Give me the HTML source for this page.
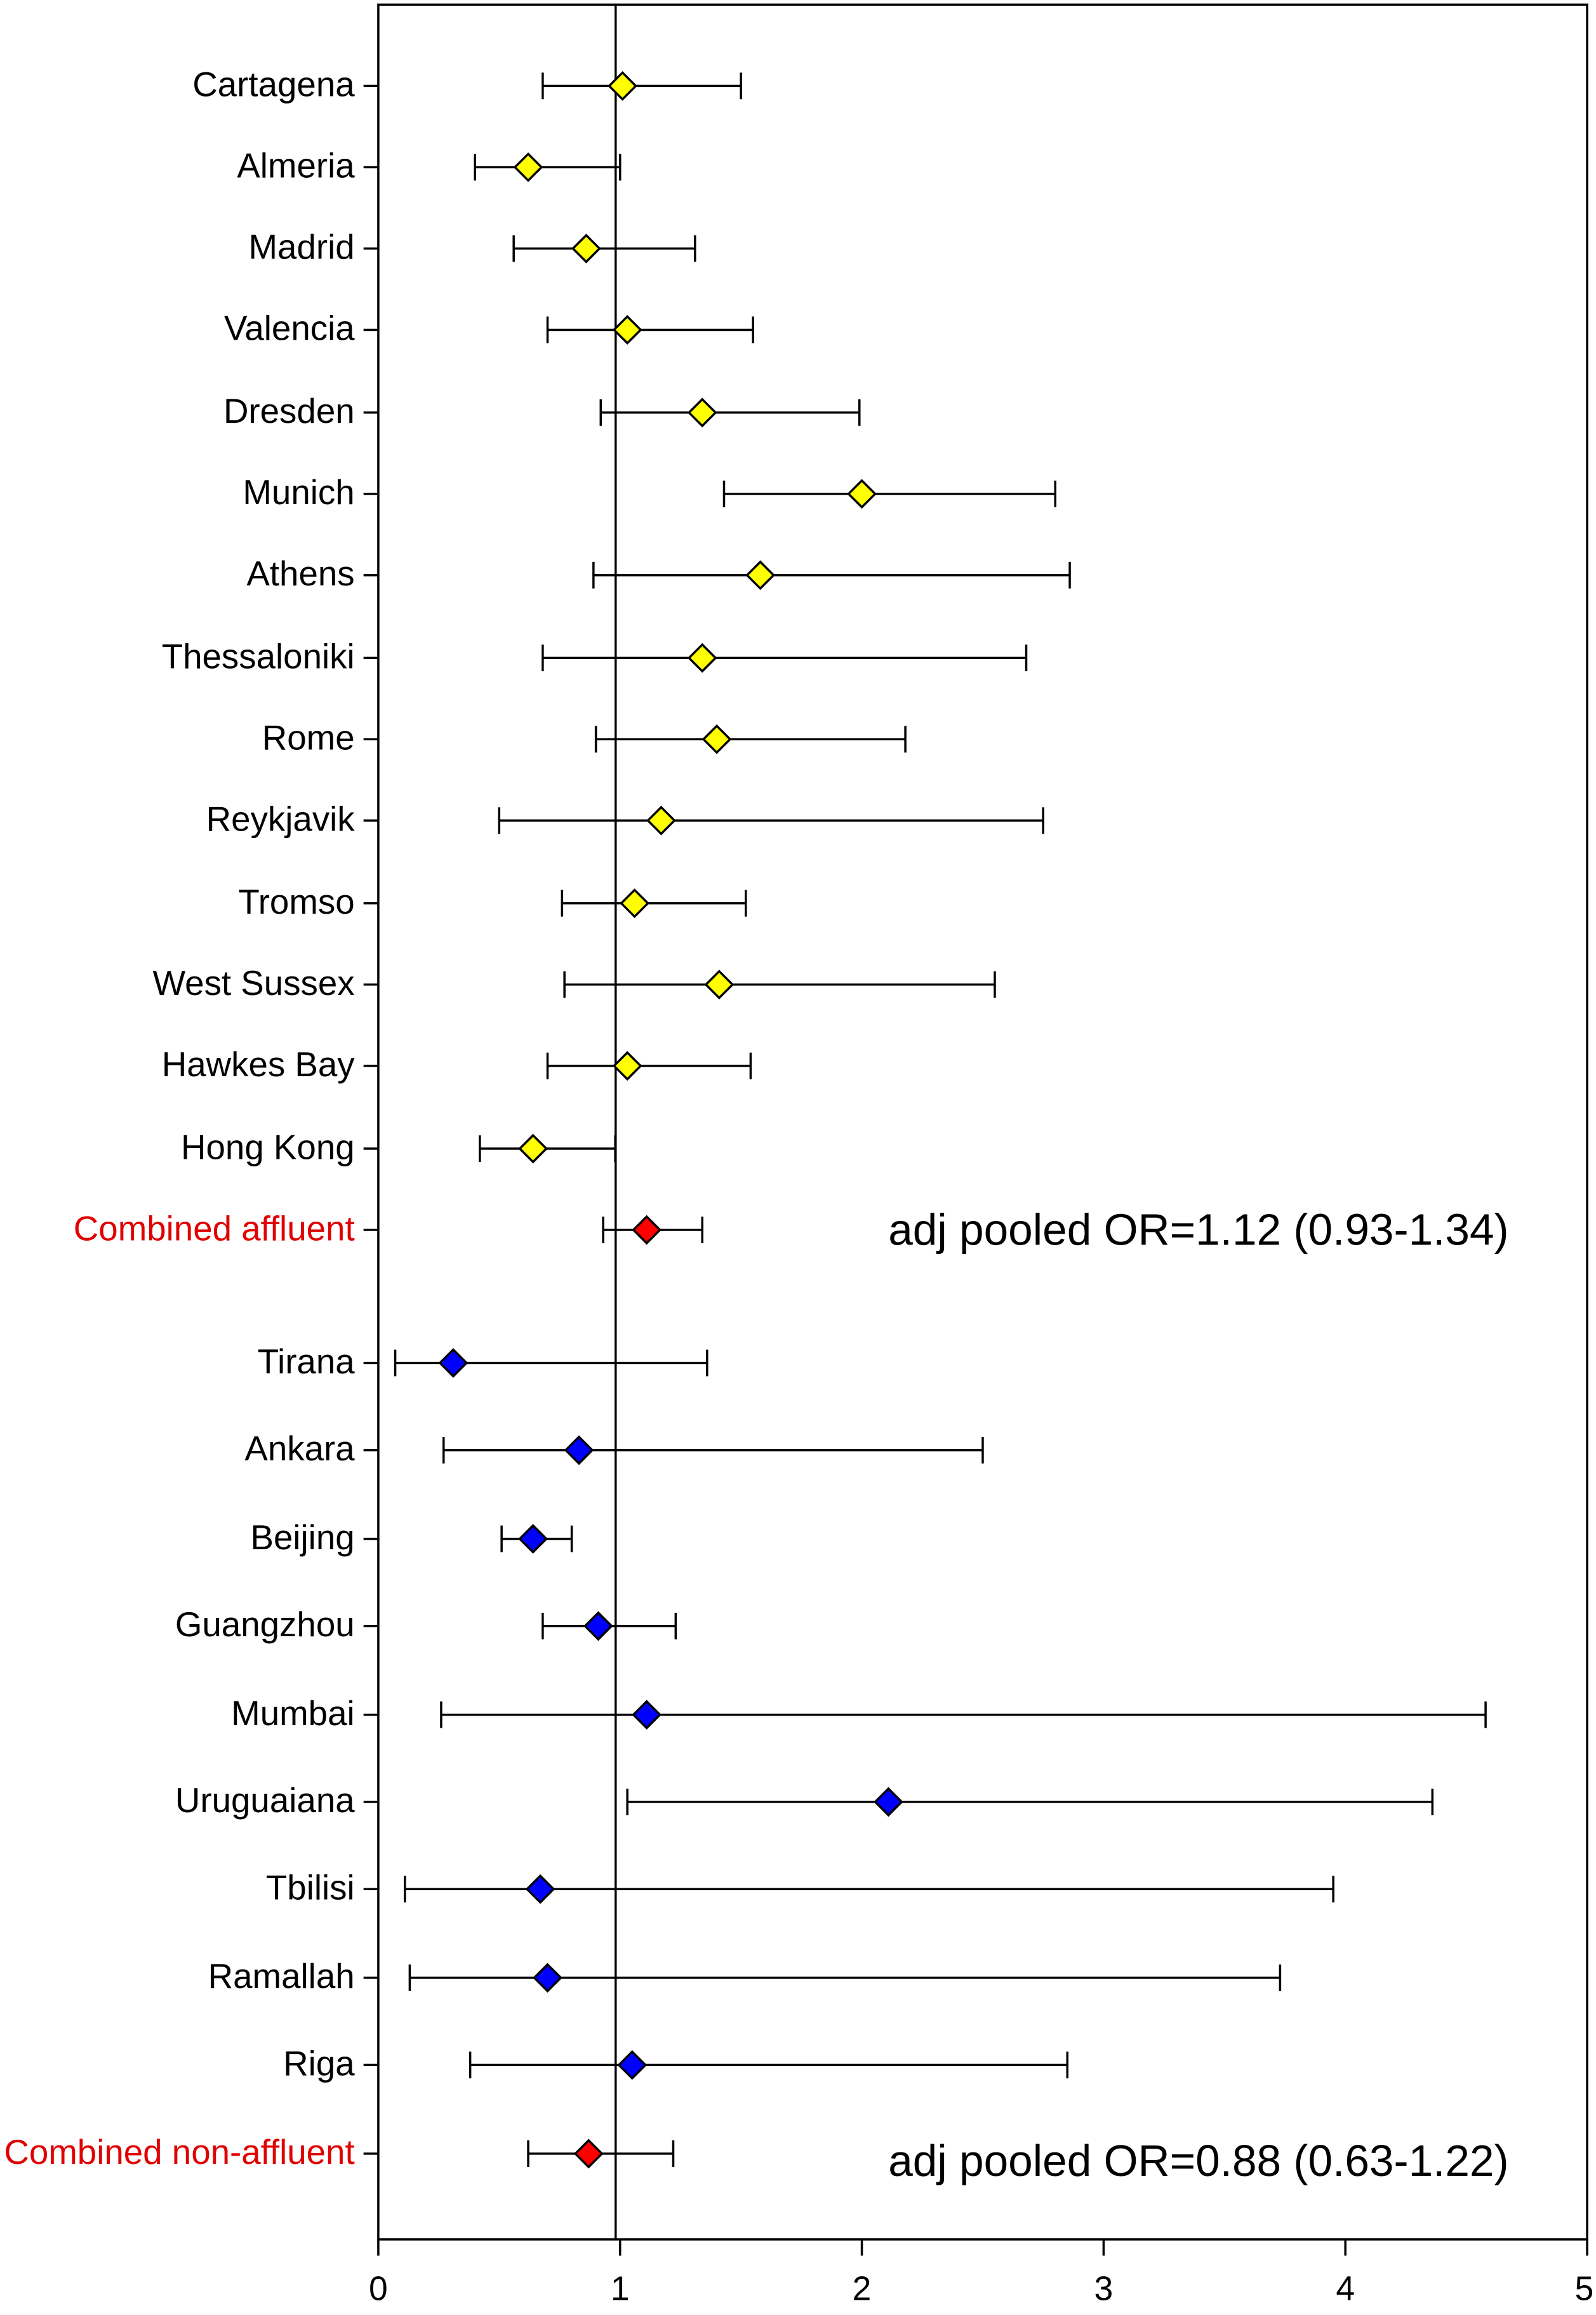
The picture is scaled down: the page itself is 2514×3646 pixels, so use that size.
<!DOCTYPE html>
<html><head><meta charset="utf-8"><style>
html,body{margin:0;padding:0;background:#fff;}
svg{display:block;}
text{font-family:"Liberation Sans",Arial,sans-serif;}
</style></head><body>
<svg id="chart" width="2514" height="3646" viewBox="0 0 1080 1566" xmlns="http://www.w3.org/2000/svg">
<rect x="256" y="3" width="818" height="1512" fill="none" stroke="#000" stroke-width="1.5"/>
<g id="marks"></g>
<text x="1021" y="842" font-size="29.8" text-anchor="end">adj pooled OR=1.12 (0.93-1.34)</text>
<text x="1021" y="1472" font-size="29.8" text-anchor="end">adj pooled OR=0.88 (0.63-1.22)</text>
</svg>
<script>
const categories=["Cartagena","Almeria","Madrid","Valencia","Dresden","Munich","Athens","Thessaloniki","Rome","Reykjavik","Tromso","West Sussex","Hawkes Bay","Hong Kong","Combined affluent","Tirana","Ankara","Beijing","Guangzhou","Mumbai","Uruguaiana","Tbilisi","Ramallah","Riga","Combined non-affluent"];
const orValues=[1.01,0.62,0.86,1.03,1.34,2.00,1.58,1.34,1.40,1.17,1.06,1.41,1.03,0.64,1.11,0.31,0.83,0.64,0.91,1.11,2.11,0.67,0.70,1.05,0.87];
const lowerCI=[0.68,0.40,0.56,0.70,0.92,1.43,0.89,0.68,0.90,0.50,0.76,0.77,0.70,0.42,0.93,0.07,0.27,0.51,0.68,0.26,1.03,0.11,0.13,0.38,0.62];
const upperCI=[1.50,1.00,1.31,1.55,1.99,2.80,2.86,2.68,2.18,2.75,1.52,2.55,1.54,0.98,1.34,1.36,2.50,0.80,1.23,4.58,4.36,3.95,3.73,2.85,1.22];
const groups=["aff","aff","aff","aff","aff","aff","aff","aff","aff","aff","aff","aff","aff","aff","pool","non","non","non","non","non","non","non","non","non","pool"];
const rowY=[58,113,168,223,279,334,389,445,500,555,611,666,721,777,832,922,981,1041,1100,1160,1219,1278,1338,1397,1457];
const xTicks=[0,1,2,3,4,5];
const NS="http://www.w3.org/2000/svg";
const g=document.getElementById('marks');
function xs(v){return 256+v*(1074-256)/5;}
function mk(tag,attrs,parent){const e=document.createElementNS(NS,tag);for(const k in attrs)e.setAttribute(k,attrs[k]);(parent||g).appendChild(e);return e;}
let ref=mk('line',{x1:xs(1)-3,x2:xs(1)-3,y1:3,y2:1515,stroke:'#000','stroke-width':1.5});


xTicks.forEach(t=>{
  const l=mk('line',{x1:xs(t),x2:xs(t),y1:1515,y2:1526,stroke:'#000','stroke-width':1.5});
  
  
  const tx=mk('text',{x:xs(t)-(t==5?2:0),y:1556,'font-size':23,'text-anchor':'middle'});
  tx.textContent=String(t);
  
  
});
const colors={aff:'#ffff00',non:'#0000ff',pool:'#ff0000'};
categories.forEach((c,i)=>{
  const y=rowY[i];
  const tk=mk('line',{x1:246,x2:256,y1:y,y2:y,stroke:'#000','stroke-width':1.5});
  
  
  const lab=mk('text',{x:240,y:y+7,'font-size':23.5,'text-anchor':'end',fill:groups[i]=='pool'?'#e00000':'#000'});
  lab.textContent=c;
  
  
  const x1=xs(lowerCI[i]),x2=xs(upperCI[i]),xc=xs(orValues[i]);
  const eb=mk('path',{d:`M${x1},${y}H${x2}M${x1},${y-9}V${y+9}M${x2},${y-9}V${y+9}`,stroke:'#000','stroke-width':1.5,fill:'none'});
  
  
  const d=9;
  const dm=mk('path',{d:`M${xc},${y-d}L${xc+d},${y}L${xc},${y+d}L${xc-d},${y}Z`,fill:colors[groups[i]],stroke:'#000','stroke-width':1.5});
  
  
});
</script>
</body></html>
